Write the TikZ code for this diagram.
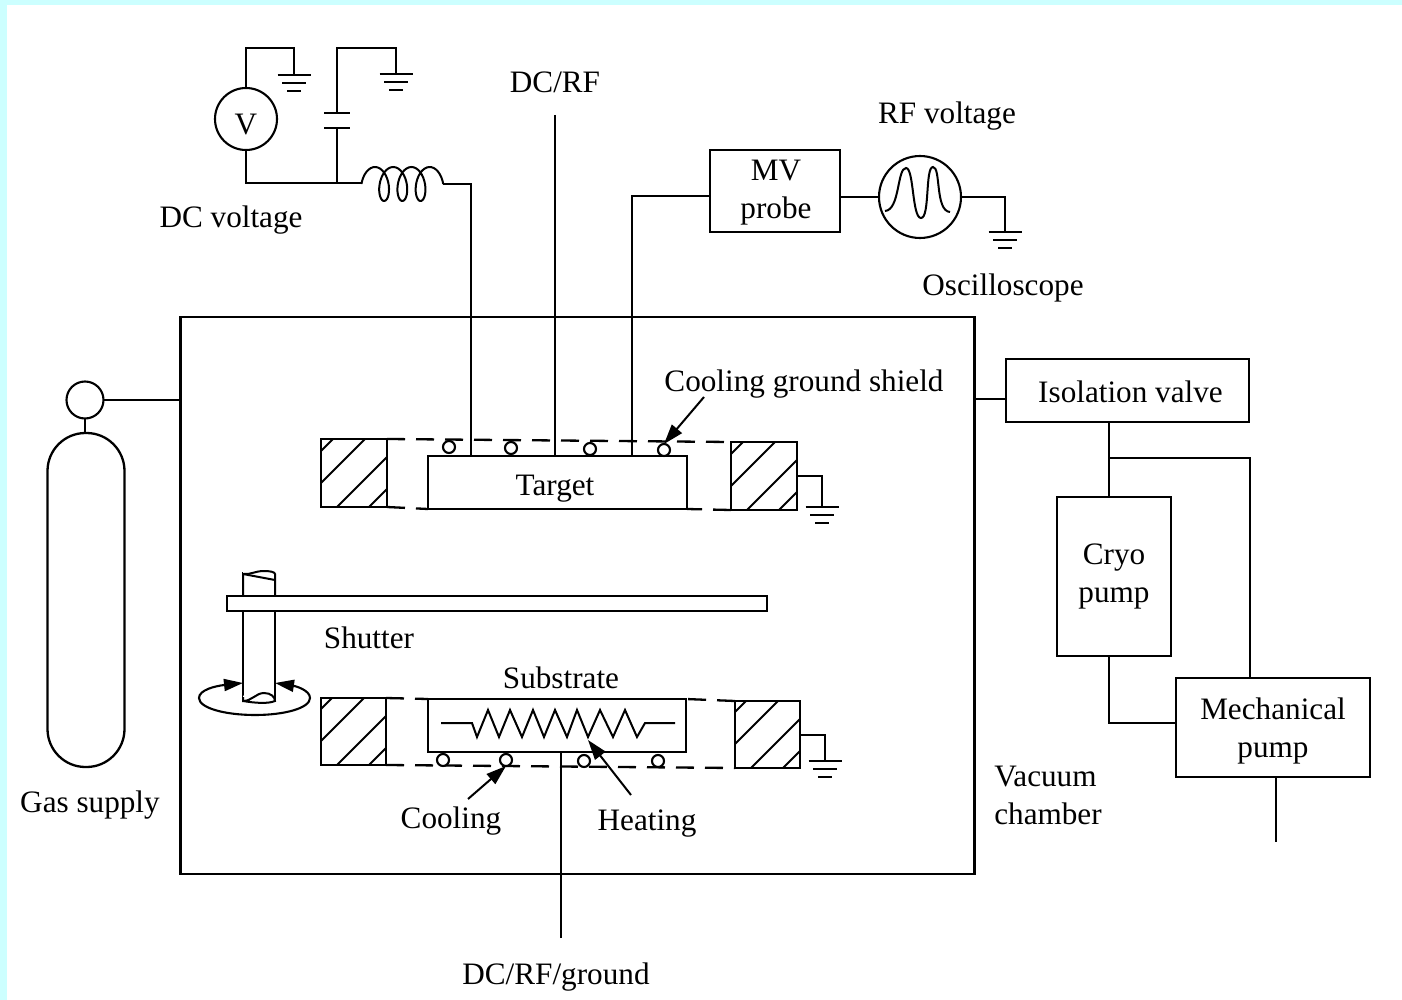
\documentclass[tikz,border=0pt]{standalone}
\usepackage{fontspec}
\setmainfont{Liberation Serif}
\usetikzlibrary{arrows,arrows.meta,positioning}
\definecolor{framecyan}{HTML}{CCFFFF}
\tikzstyle{wire}=[line width=2pt]
\tikzstyle{box}=[draw,line width=2.3pt,inner sep=0pt,outer sep=0pt,align=center]
\tikzstyle{ball}=[draw,circle,line width=2.1pt,inner sep=0pt,outer sep=0pt,fill=white]
\tikzstyle{tube}=[box,fill=white]
\tikzstyle{rim}=[line width=2.3pt,dash pattern=on 18pt off 11pt]
\tikzstyle{pointer}=[line width=2pt,-{Stealth[inset=0pt,length=20pt,width=13pt]}]
\tikzstyle{shield}=[box,minimum width=66pt,minimum height=68pt,path picture={
    \foreach \d in {-56,-24,16,48}
    \draw[line width=1.8pt] ([xshift=\d pt]path picture bounding box.south west) -- ++(70,-70);
    }]
% earth symbol, hung below a named point
\newcommand{\earth}[1]{
    \draw[line width=2.4pt] ([xshift=-16.5pt]#1) -- ([xshift=16.5pt]#1);
    \draw[line width=2.2pt] ([xshift=-12pt,yshift=-8pt]#1) -- ([xshift=12pt,yshift=-8pt]#1);
    \draw[line width=2.2pt] ([xshift=-7pt,yshift=-16pt]#1) -- ([xshift=7pt,yshift=-16pt]#1);
}
% taller first line, pushes the text in a box down
\newcommand{\dropby}[1]{\rule{0pt}{#1pt}}
\begin{document}
\begin{tikzpicture}[
    x=1pt,y=-1pt,
    semithick,
    every node/.style={font=\fontsize{31.2}{38}\selectfont},
    text centered
    ]
    \useasboundingbox (0,0) rectangle (1402,1000);
    \fill[framecyan] (0,0) rectangle (1402,1000);
    \fill[white] (7,5) rectangle (1402,1000);

    % chamber and gas
    \node[box,minimum width=794pt,minimum height=557pt](chamber) at (577.5,595.5) {};
    \node[box,minimum width=77pt,minimum height=334pt,rounded corners=38pt](bottle) at (86,600) {};
    \node[ball,minimum size=37pt](gauge) at (85,400) {};
    \node(gaslabel) at (90,805) {Gas supply};
    \draw[wire] (gauge.east) -- (gauge.east -| chamber.west);
    \draw[wire] (gauge.south) -- (bottle.north -| gauge.south);

    % top left circuit
    \node[ball,minimum size=62pt](volt) at (246,119) {\dropby{31}V};
    \coordinate (earthA) at (294,75);
    \coordinate (earthB) at (396,74);
    \coordinate (capT) at (337,113);
    \coordinate (capB) at (337,128);
    \coordinate (tee) at (337,183);
    \coordinate (coilin) at (361,183);
    \coordinate (coilout) at (443,184);
    \draw[wire] (volt.north) |- (270,48) -| (earthA);
    \draw[wire] (capT) |- (360,48) -| (earthB);
    \draw[wire] (volt.south) |- (coilin);
    \draw[wire] (capB) -- (tee);
    \draw[line width=2.4pt] ([xshift=-13pt]capT) -- ([xshift=13pt]capT);
    \draw[line width=2.4pt] ([xshift=-13pt]capB) -- ([xshift=13pt]capB);
    \earth{earthA}
    \earth{earthB}
    \draw[wire,smooth] plot[domain=-90:1170,samples=110,variable=\t]
    ({375+2.9*\t*pi/180+9*sin(\t)},{184-17*cos(\t)});
    \node(dclabel) at (231,220) {DC voltage};
    \node(dcrf) at (555,82) {DC/RF};
    \coordinate (dcrfend) at (555,115);

    % target
    \node[box,minimum width=259pt,minimum height=53pt](target) at (557.5,482.5) {\dropby{32}\kern-5pt Target};
    \node[shield](shieldA) at (354,473) {};
    \node[shield](shieldB) at (764,476) {};
    \draw[rim] (shieldA.north east) -- (shieldB.north west);
    \draw[rim] (shieldA.south east) -- (target.south west);
    \draw[rim] (shieldB.south west) -- (target.south east);
    \node[ball,minimum size=12pt](coilA) at (449,447) {};
    \node[ball,minimum size=12pt](coilB) at (511,448) {};
    \node[ball,minimum size=12pt](coilC) at (590,449) {};
    \node[ball,minimum size=12pt](coilD) at (664,450) {};
    \coordinate (earthC) at (822,507);
    \draw[wire] (shieldB.east) -| (earthC);
    \earth{earthC}
    \draw[wire] (coilout) -| ([xshift=-86.5pt]target.north);
    \draw[wire] (dcrfend) -- ([xshift=-2.5pt]target.north);
    \node(shieldlabel) at (804,384) {Cooling ground shield};
    \coordinate (shieldtail) at (704,397);
    \draw[pointer] (shieldtail) -- (coilD.north);

    % probe side
    \node[box,minimum width=130pt,minimum height=82pt](probe) at (775,191) {\dropby{24}\hspace*{2pt}MV\\\hspace*{2pt}probe};
    \node[ball,minimum size=82pt](scope) at (920,197) {};
    \coordinate (earthD) at (1005,232);
    \draw[wire] ([yshift=-5pt]probe.west) -| ([xshift=74.5pt]target.north);
    \draw[wire] (probe.east |- scope) -- (scope.west);
    \draw[wire] (scope.east) -| (earthD);
    \earth{earthD}
    \draw[wire] (885,211) .. controls (900,210) and (897,168) .. (906,168)
    .. controls (914,168) and (912,218) .. (921,218)
    .. controls (930,218) and (925,167) .. (933,167)
    .. controls (941,167) and (935,211) .. (950,212);
    \node(rflabel) at (947,116) {RF voltage};
    \node(scopelabel) at (1003,288) {Oscilloscope};

    % pumps
    \node[box,minimum width=243pt,minimum height=63pt](valve) at (1127.5,390.5) {\dropby{25}\hspace*{6pt}Isolation valve};
    \node[box,minimum width=114pt,minimum height=159pt](cryo) at (1114,576.5) {Cryo\\pump};
    \node[box,minimum width=194pt,minimum height=99pt](mech) at (1273,727.5) {\dropby{28}Mechanical\\pump};
    \coordinate (exhaust) at (1276,842);
    \coordinate (branch) at (1109,458);
    \draw[wire] ([yshift=197pt]chamber.east) -- ([yshift=197pt]chamber.east -| valve.west);
    \draw[wire] (branch |- valve.south) -- (branch |- cryo.north);
    \draw[wire] (branch) -| (mech.north -| 1250,0);
    \draw[wire] (branch |- cryo.south) |- ([yshift=4.5pt]mech.west);
    \draw[wire] (exhaust |- mech.south) -- (exhaust);
    \node[align=left](vaclabel) at (1048,795.5) {Vacuum\\chamber};

    % shutter
    \node[tube,minimum width=32pt,minimum height=127pt](shaft) at (259,636.5) {};
    \node[tube,minimum width=540pt,minimum height=15pt](shutter) at (497,603.5) {};
    \draw[line width=2pt,fill=white,draw=white] (244,697) .. controls (252,702) and (256,693) .. (262,693)
    .. controls (270,693) and (274,697) .. (274,700) -- (274,708) -- (244,708) -- cycle;
    \draw[line width=2pt,fill=white,draw=white] (244,576) -- (244,560) -- (276,560) -- (276,576) -- cycle;
    \draw[wire] (243,697) -- (243,701) .. controls (252,701) and (256,693) .. (264,693)
    .. controls (271,693) and (275,697) .. (275,701) .. controls (268,704) and (255,703) .. (243,701);
    \draw[wire] (243,596) -- (243,574) .. controls (250,575) and (255,571) .. (264,571)
    .. controls (270,571) and (275,572) .. (275,574) -- (275,596);
    \draw[wire] (243,574) -- (275,580);
    \node(shutterlabel) at (369,638) {Shutter};
    \coordinate (swingL) at (243,683);
    \coordinate (swingR) at (275,683);
    \draw[line width=2.1pt,{Stealth[inset=0pt,length=19pt,width=12pt]}-{Stealth[inset=0pt,length=19pt,width=12pt]}] (swingL)
    .. controls (215,686) and (199,690) .. (199,698)
    .. controls (199,708) and (225,715) .. (255,715)
    .. controls (285,715) and (310,708) .. (310,698)
    .. controls (310,690) and (295,686) .. (swingR);

    % substrate
    \node[box,minimum width=258pt,minimum height=53pt](sub) at (557,725.5) {};
    \node[shield,minimum width=65pt,minimum height=67pt](shieldC) at (353.5,731.5) {};
    \node[shield,minimum width=65pt,minimum height=67pt](shieldD) at (767.5,734.5) {};
    \draw[rim] (shieldC.north east) -- (sub.north west);
    \draw[rim] (shieldD.north west) -- (sub.north east);
    \draw[rim] (shieldC.south east) -- (shieldD.south west);
    \node[ball,minimum size=12pt](coilE) at (443,760) {};
    \node[ball,minimum size=12pt](coilF) at (506,760) {};
    \node[ball,minimum size=12pt](coilG) at (584,761) {};
    \node[ball,minimum size=12pt](coilH) at (658,761) {};
    \coordinate (earthE) at (825,761);
    \draw[wire] (shieldD.east) -| (earthE);
    \earth{earthE}
    \draw[wire] (441,723) -- (472,723) -- (477,737) -- (488,710) -- (499,737) -- (510,710)
    -- (522,737) -- (533,710) -- (544,737) -- (555,710) -- (567,737) -- (577,710) -- (588,737)
    -- (600,710) -- (613,737) -- (625,710) -- (637,737) -- (645,723) -- (675,723);
    \node(sublabel) at (561,678) {Substrate};
    \node(coolinglabel) at (451,821) {Cooling};
    \node(heatinglabel) at (647,824) {Heating};
    \node(biaslabel) at (556,977) {DC/RF/ground};
    \coordinate (heattail) at (631,795);
    \coordinate (heattip) at (588,740);
    \coordinate (cooltail) at (468,799);
    \coordinate (bias) at (561,938);
    \draw[pointer] (heattail) -- (heattip);
    \draw[pointer] (cooltail) -- (coilF.south);
    \draw[wire] (bias) -- (bias |- sub.south);
\end{tikzpicture}
\end{document}
